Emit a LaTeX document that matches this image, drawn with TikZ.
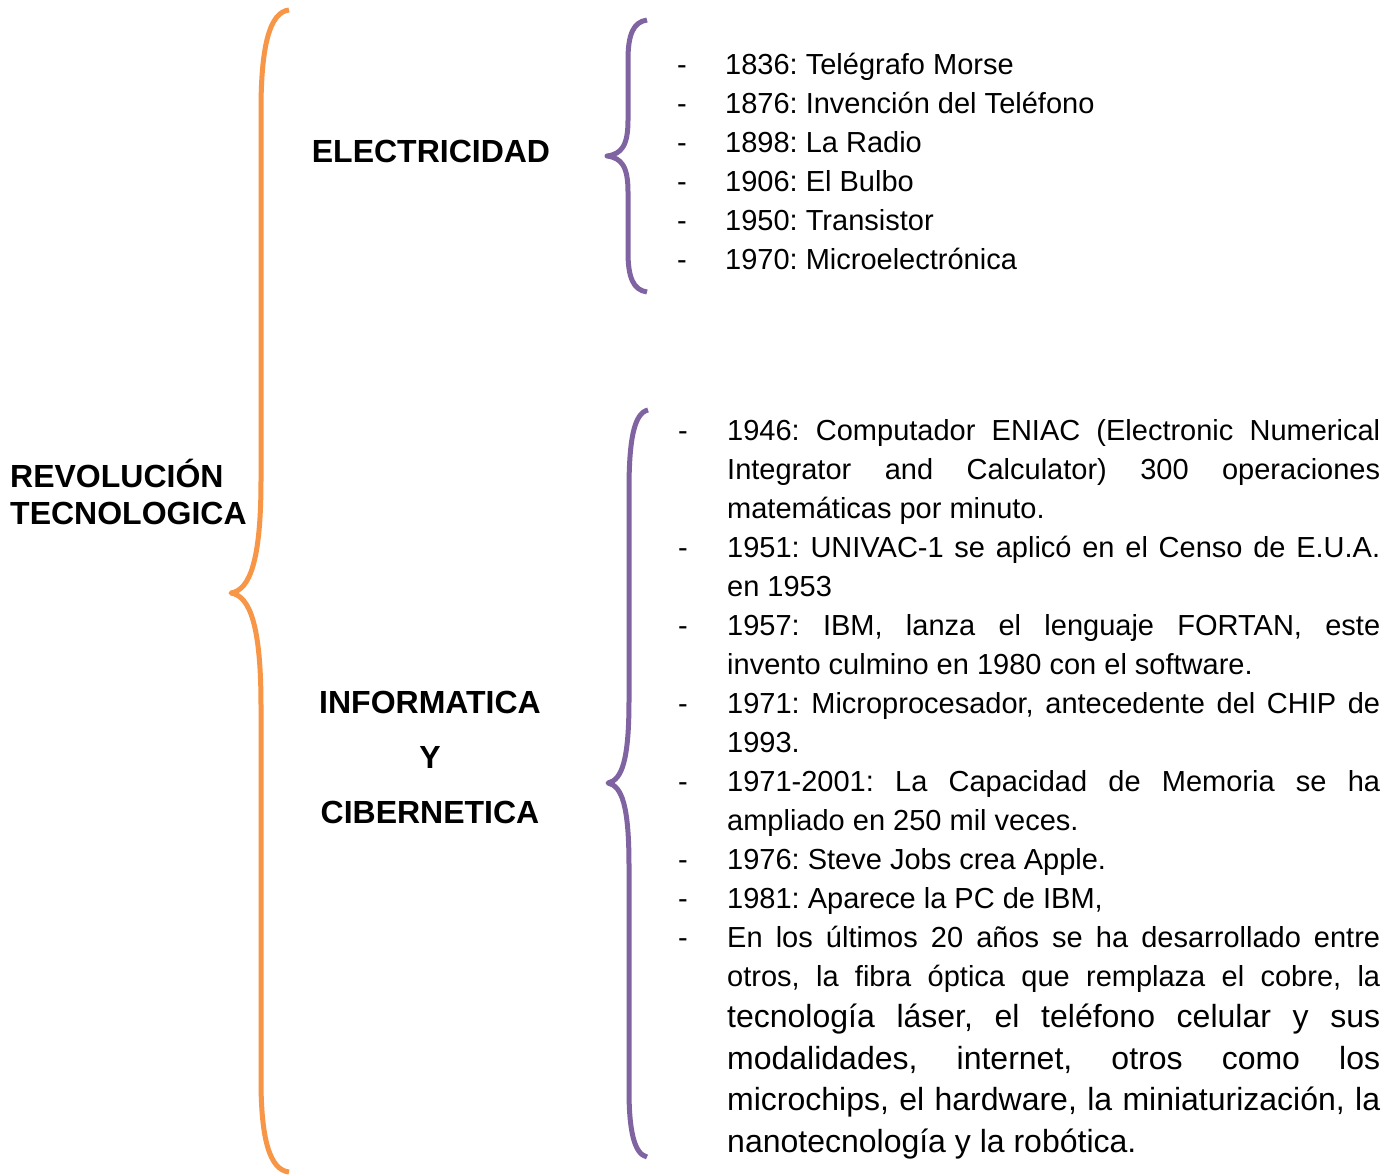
\documentclass[tikz,border=0pt]{standalone}
\usepackage{fontspec}
\setmainfont{Liberation Sans}
\frenchspacing
\definecolor{braceorange}{HTML}{F79646}
\definecolor{bracepurple}{HTML}{8064A2}
\newcommand{\jlin}[1]{\makebox[653pt][s]{#1}}
\begin{document}
\frenchspacing
\begin{tikzpicture}[x=1pt,y=-1pt,
  txt/.style={anchor=base west, inner sep=0pt, font=\fontsize{29pt}{39pt}\selectfont\frenchspacing},
  bigtxt/.style={anchor=base west, inner sep=0pt, font=\fontsize{32pt}{42pt}\selectfont\frenchspacing},
  head/.style={inner sep=0pt, font=\fontsize{32pt}{38pt}\selectfont\bfseries},
  obrace/.style={draw=braceorange, line width=5pt, line join=round},
  pbrace/.style={draw=bracepurple, line width=5pt, line join=round}]
\useasboundingbox (0,0) rectangle (1397,1175);
\fill[white] (0,0) rectangle (1397,1175);

% braces
\path[obrace] (289,10) .. controls (270,12) and (261,45) .. (261,110) -- (261,480)
  .. controls (261,560) and (250,590) .. (231,593)
  .. controls (250,596) and (261,626) .. (261,706) -- (261,1080)
  .. controls (261,1140) and (270,1170) .. (289,1172);
\path[pbrace] (647,20) .. controls (633,22) and (628,35) .. (628,60) -- (628,120)
  .. controls (628,145) and (622,154) .. (607,156)
  .. controls (622,158) and (628,167) .. (628,192) -- (628,252)
  .. controls (628,277) and (633,290) .. (647,292);
\path[pbrace] (648,410) .. controls (634,413) and (629,440) .. (629,490) -- (629,700)
  .. controls (629,760) and (622,780) .. (608,783)
  .. controls (622,786) and (629,806) .. (629,866) -- (629,1090)
  .. controls (629,1130) and (634,1154) .. (647,1157);

% headings
\node[head, anchor=base west] (rev1) at (10,487) {REVOLUCIÓN};
\node[head, anchor=base west] (rev2) at (10,524) {TECNOLOGICA};
\node[head, anchor=base] (elec) at (431,162) {ELECTRICIDAD};
\node[head, anchor=base] (inf1) at (430,713) {INFORMATICA};
\node[head, anchor=base] (inf2) at (430,768) {Y};
\node[head, anchor=base] (inf3) at (430,823) {CIBERNETICA};

% upper list
\node[txt] (ud1) at (677,74) {-};
\node[txt] (ut1) at (725,74) {1836: Telégrafo Morse};
\node[txt] (ud2) at (677,113) {-};
\node[txt] (ut2) at (725,113) {1876: Invención del Teléfono};
\node[txt] (ud3) at (677,152) {-};
\node[txt] (ut3) at (725,152) {1898: La Radio};
\node[txt] (ud4) at (677,191) {-};
\node[txt] (ut4) at (725,191) {1906: El Bulbo};
\node[txt] (ud5) at (677,230) {-};
\node[txt] (ut5) at (725,230) {1950: Transistor};
\node[txt] (ud6) at (677,269) {-};
\node[txt] (ut6) at (725,269) {1970: Microelectrónica};

% lower list
\node[txt] (ld1) at (678,440) {-};
\node[txt] (l1) at (727,440) {\jlin{1946: Computador ENIAC (Electronic Numerical}};
\node[txt] (l2) at (727,479) {\jlin{Integrator and Calculator) 300 operaciones}};
\node[txt] (l3) at (727,518) {matemáticas por minuto.};
\node[txt] (ld2) at (678,557) {-};
\node[txt] (l4) at (727,557) {\jlin{1951: UNIVAC-1 se aplicó en el Censo de E.U.A.}};
\node[txt] (l5) at (727,596) {en 1953};
\node[txt] (ld3) at (678,635) {-};
\node[txt] (l6) at (727,635) {\jlin{1957: IBM, lanza el lenguaje FORTAN, este}};
\node[txt] (l7) at (727,674) {invento culmino en 1980 con el software.};
\node[txt] (ld4) at (678,713) {-};
\node[txt] (l8) at (727,713) {\jlin{1971: Microprocesador, antecedente del CHIP de}};
\node[txt] (l9) at (727,752) {1993.};
\node[txt] (ld5) at (678,791) {-};
\node[txt] (l10) at (727,791) {\jlin{1971-2001: La Capacidad de Memoria se ha}};
\node[txt] (l11) at (727,830) {ampliado en 250 mil veces.};
\node[txt] (ld6) at (678,869) {-};
\node[txt] (l12) at (727,869) {1976: Steve Jobs crea Apple.};
\node[txt] (ld7) at (678,908) {-};
\node[txt] (l13) at (727,908) {1981: Aparece la PC de IBM,};
\node[txt] (ld8) at (678,947) {-};
\node[txt] (l14) at (727,947) {\jlin{En los últimos 20 años se ha desarrollado entre}};
\node[txt] (l15) at (727,986) {\jlin{otros, la fibra óptica que remplaza el cobre, la}};
\node[bigtxt] (l16) at (727,1027) {\jlin{tecnología láser, el teléfono celular y sus}};
\node[bigtxt] (l17) at (727,1069) {\jlin{modalidades, internet, otros como los}};
\node[bigtxt] (l18) at (727,1110) {\jlin{microchips, el hardware, la miniaturización, la}};
\node[bigtxt] (l19) at (727,1152) {nanotecnología y la robótica.};
\end{tikzpicture}
\end{document}
